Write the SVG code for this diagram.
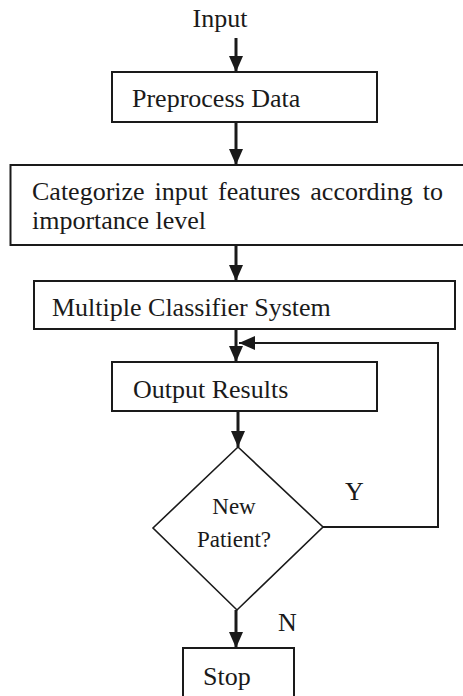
<svg xmlns="http://www.w3.org/2000/svg" width="463" height="696" viewBox="0 0 463 696">
  <style>
    .box { fill: #fff; stroke: #1a1a1a; stroke-width: 2; }
    .dia { fill: #fff; stroke: #1a1a1a; stroke-width: 1.6; }
    .lbl { font-family: "Liberation Serif", "Times New Roman", serif; font-size: 26px; fill: #1a1a1a; }
    .small { font-size: 23px; }
    .wire { fill: none; stroke: #1a1a1a; stroke-width: 3; }
    .thin { fill: none; stroke: #1a1a1a; stroke-width: 2; }
  </style>
  <defs>
    <marker id="head" markerUnits="userSpaceOnUse" markerWidth="16" markerHeight="16" viewBox="0 0 16 16" refX="16" refY="8" orient="auto">
      <path d="M0,1 L16,8 L0,15 Z" fill="#1a1a1a"/>
    </marker>
  </defs>

  <rect width="463" height="696" fill="#fff"/>

  <g id="input">
    <text class="lbl" x="220" y="27" text-anchor="middle">Input</text>
  </g>

  <g id="preprocess">
    <rect class="box" x="112" y="72" width="265" height="50"/>
    <text class="lbl" x="132" y="107">Preprocess Data</text>
  </g>

  <g id="categorize">
    <rect class="box" x="10.5" y="165" width="460" height="80"/>
    <text class="lbl" x="32" y="200" word-spacing="3.5">Categorize input features according to</text>
    <text class="lbl" x="32" y="229">importance level</text>
  </g>

  <g id="classifier">
    <rect class="box" x="34" y="281" width="421" height="48"/>
    <text class="lbl" x="52" y="316">Multiple Classifier System</text>
  </g>

  <g id="output">
    <rect class="box" x="112" y="362" width="265" height="49"/>
    <text class="lbl" x="133" y="398">Output Results</text>
  </g>

  <g id="decision">
    <polygon class="dia" points="238,447 323,527 237,610 153,528"/>
    <text class="lbl small" x="234" y="514" text-anchor="middle">New</text>
    <text class="lbl small" x="234" y="547" text-anchor="middle">Patient?</text>
  </g>

  <g id="stop">
    <rect class="box" x="183" y="648" width="111" height="60"/>
    <text class="lbl" x="203" y="685">Stop</text>
  </g>

  <g id="connectors">
    <line class="wire" x1="236" y1="38" x2="236" y2="72" marker-end="url(#head)"/>
    <line class="wire" x1="236" y1="122" x2="236" y2="165" marker-end="url(#head)"/>
    <line class="wire" x1="236" y1="245" x2="236" y2="281" marker-end="url(#head)"/>
    <line class="wire" x1="236" y1="329" x2="236" y2="362" marker-end="url(#head)"/>
    <line class="wire" x1="238" y1="411" x2="238" y2="447" marker-end="url(#head)"/>
    <polyline class="thin" points="323,527 438,527 438,343 239,343" marker-end="url(#head)"/>
    <line class="wire" x1="236" y1="610" x2="236" y2="648" marker-end="url(#head)"/>
    <text class="lbl" x="345" y="500">Y</text>
    <text class="lbl" x="278" y="631">N</text>
  </g>
</svg>
